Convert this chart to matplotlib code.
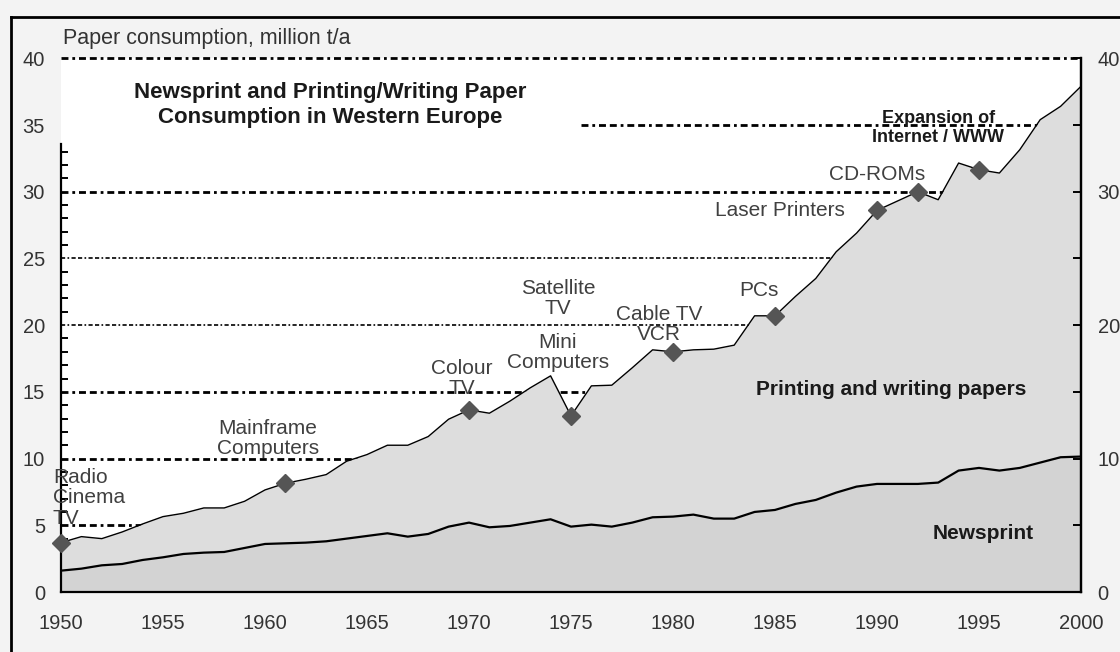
"""Newsprint and printing/writing paper consumption in Western Europe, 1950-2000."""
import matplotlib
matplotlib.use("Agg")
import matplotlib.pyplot as plt
from matplotlib.lines import Line2D

plt.rcParams["font.family"] = ["Liberation Sans", "DejaVu Sans"]

years = list(range(1950, 2001))
# total consumption (newsprint + printing/writing), million t/a
total = [3.7, 4.15, 4.0, 4.5, 5.1, 5.65, 5.9, 6.3, 6.3, 6.8,
         7.65, 8.15, 8.45, 8.8, 9.8, 10.3, 11.0, 11.0, 11.65, 12.95,
         13.65, 13.4, 14.3, 15.3, 16.2, 13.2, 15.45, 15.5, 16.8, 18.15,
         18.0, 18.15, 18.2, 18.5, 20.7, 20.7, 22.15, 23.5, 25.5, 26.9,
         28.6, 29.3, 30.0, 29.4, 32.15, 31.65, 31.4, 33.15, 35.4, 36.4,
         37.9]
newsprint = [1.6, 1.75, 2.0, 2.1, 2.4, 2.6, 2.85, 2.95, 3.0, 3.3,
             3.6, 3.65, 3.7, 3.8, 4.0, 4.2, 4.4, 4.15, 4.35, 4.9,
             5.2, 4.85, 4.95, 5.2, 5.45, 4.9, 5.05, 4.9, 5.2, 5.6,
             5.65, 5.8, 5.5, 5.5, 6.0, 6.15, 6.6, 6.9, 7.45, 7.9,
             8.1, 8.1, 8.1, 8.2, 9.1, 9.3, 9.1, 9.3, 9.7, 10.1,
             10.15]

event_years = [1950, 1961, 1970, 1975, 1980, 1985, 1990, 1992, 1995]
event_values = [3.7, 8.15, 13.65, 13.2, 18.0, 20.7, 28.6, 30.0, 31.6]
event_labels = ["Radio\nCinema\nTV", "Mainframe\nComputers", "Colour\nTV",
                "Satellite\nTV", "Mini\nComputers", "Cable TV\nVCR", "PCs",
                "Laser Printers", "CD-ROMs"]
# label anchor positions (year, value)
event_label_pos = [(1949.6, 7.05), (1960.15, 11.5), (1969.66, 16.0),
                   (1974.36, 22.0), (1974.36, 17.95), (1979.3, 20.05),
                   (1984.2, 22.6), (1985.25, 28.6), (1990.0, 31.3)]

grid_levels = [5, 10, 15, 20, 25, 30, 35, 40]

fig = plt.figure(figsize=(11.2, 6.52), dpi=100, facecolor="#f3f3f3")
ax = fig.add_axes([61 / 1120, 1 - 592 / 652, 1020 / 1120, (592 - 58.3) / 652])
ax.set_facecolor("white")
ax.set_xlim(1950, 2000)
ax.set_ylim(0, 40)

# dash-dot grid lines sit behind the filled areas
for lvl in grid_levels:
    start = 1975.5 if lvl == 35 else 1950
    lw = 1.2 if lvl in (20, 25) else 2.0
    ax.hlines(lvl, start, 2000, colors="black", linewidth=lw,
              linestyles=(0, (2.5, 1.4, 1.0, 1.4, 2.5, 1.4)), zorder=1,
              clip_on=False)

ax.fill_between(years, newsprint, total, color="#dddddd", lw=0, zorder=2)
ax.fill_between(years, 0, newsprint, color="#d3d3d3", lw=0, zorder=2)
ax.plot(years, total, color="black", lw=1.0, zorder=3)
ax.plot(years, newsprint, color="black", lw=1.6, zorder=3)
ax.plot(event_years, event_values, "D", color="#555555", ms=9, zorder=4,
        clip_on=False)

for lab, (x, y) in zip(event_labels, event_label_pos):
    ha = "left" if lab.startswith("Radio") else "center"
    ax.text(x, y, lab, ha=ha, va="center", fontsize=15, color="#404040",
            linespacing=1.1, zorder=5)

ax.text(1993.0, 34.8, "Expansion of\nInternet / WWW", ha="center", va="center",
        fontsize=13, fontweight="bold", color="#1a1a1a", linespacing=1.15,
        zorder=5)
ax.text(1990.7, 15.2, "Printing and writing papers", ha="center", va="center",
        fontsize=15, fontweight="bold", color="#1a1a1a", zorder=5)
ax.text(1995.2, 4.4, "Newsprint", ha="center", va="center",
        fontsize=15, fontweight="bold", color="#1a1a1a", zorder=5)
ax.text(1963.2, 36.5, "Newsprint and Printing/Writing Paper\nConsumption in Western Europe",
        ha="center", va="center", fontsize=16, fontweight="bold",
        color="#1a1a1a", linespacing=1.3, zorder=5)
ax.text(1950.1, 41.5, "Paper consumption, million t/a", ha="left", va="center",
        fontsize=15.5, color="#333333", clip_on=False)

# spines
ax.spines["top"].set_visible(False)
ax.spines["left"].set_bounds(0, 33.6)
for s in ("left", "bottom", "right"):
    ax.spines[s].set_linewidth(1.6)

ax.set_xticks(range(1950, 2001, 5))
ax.set_xticks(years, minor=True)
ax.set_yticks(range(0, 41, 5))
ax.set_yticks(range(0, 34), minor=True)
ax.tick_params(axis="x", which="both", direction="in", length=6, width=1.4,
               pad=16, labelsize=14.5, labelcolor="#333333")
ax.tick_params(axis="y", which="major", length=0, pad=11.5, labelsize=14.5,
               labelcolor="#333333")
ax.tick_params(axis="y", which="minor", direction="in", length=5, width=1.4)

ax2 = ax.twinx()
ax2.set_ylim(0, 40)
ax2.set_yticks(range(0, 41, 5))
ax2.set_yticklabels([str(v) if v % 10 == 0 else "" for v in range(0, 41, 5)])
ax2.tick_params(axis="y", direction="in", length=6, width=1.4, pad=12,
                labelsize=14.5, labelcolor="#333333")
for s in ("top", "left", "bottom"):
    ax2.spines[s].set_visible(False)
ax2.spines["right"].set_linewidth(1.6)

# outer frame (top and left edges)
top = 1 - 17 / 652
left = 10.5 / 1120
fig.add_artist(Line2D([left, 1], [top, top], color="black", lw=2))
fig.add_artist(Line2D([left, left], [0, top], color="black", lw=2))

fig.savefig("out.png", dpi=100, facecolor=fig.get_facecolor())
